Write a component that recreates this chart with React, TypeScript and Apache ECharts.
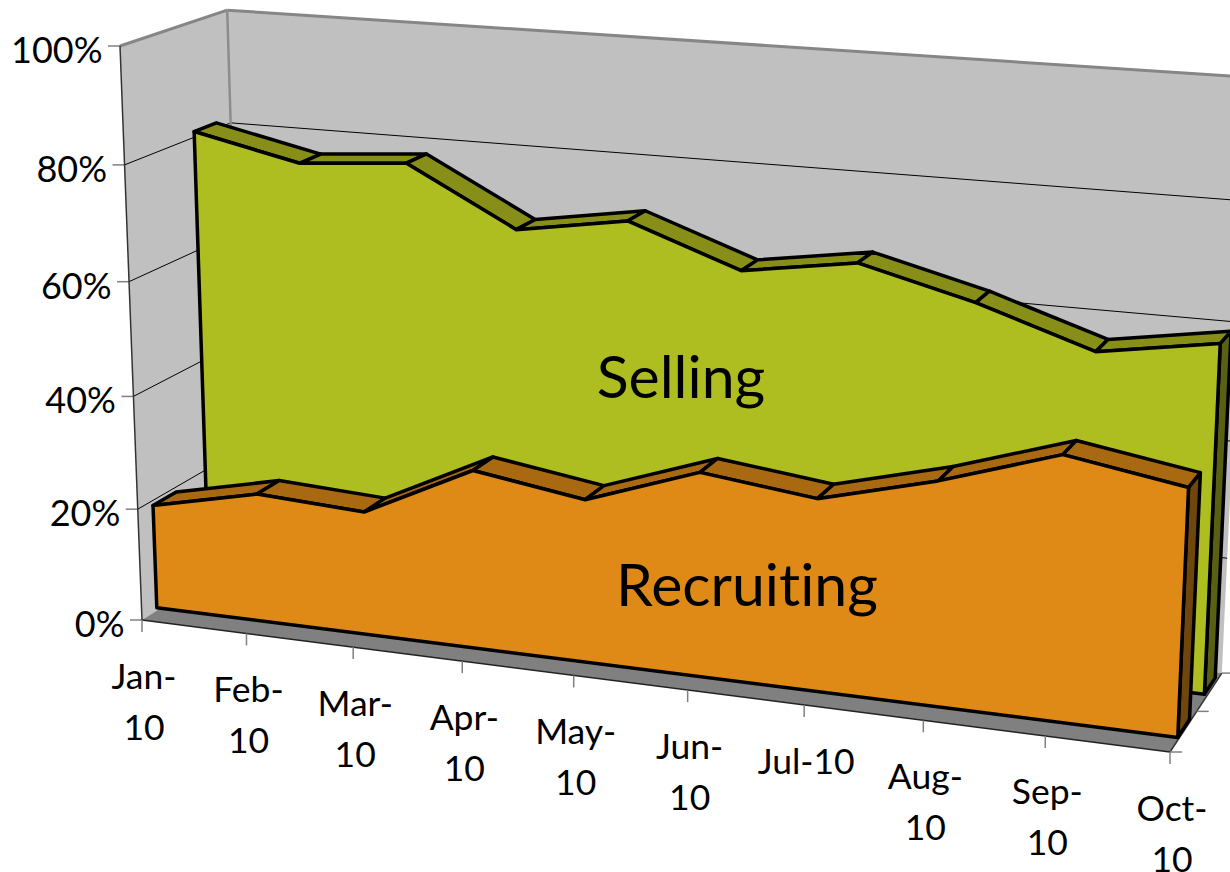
import React, { useEffect, useRef } from "react";
import * as echarts from "echarts";

const months = ["Jan-10", "Feb-10", "Mar-10", "Apr-10", "May-10", "Jun-10", "Jul-10", "Aug-10", "Sep-10", "Oct-10"];
const recruiting = [19.1, 23.3, 22.3, 31.7, 28.8, 35.6, 33.3, 38.4, 44.8, 41.6];
const selling = [81, 76.9, 78.4, 68.5, 71.6, 64.8, 67.8, 62.9, 56.6, 59.8];
const yTicks = [0, 20, 40, 60, 80, 100];
const depthTicks = [0, 0.5, 1];

const W = 1230;
const H = 872;
const FONT = "Lato, Carlito, sans-serif";

// corners of the chart box (perspective)
const O = [142, 620];
const A = [1170, 752];
const B = [120, 46];
const C = [243.7, 555.2];
const alpha = 0.905;
const beta = 0.957;
const gamma = 1.056;

function project(x: number, y: number, z: number): number[] {
  const w = 1 + x * (alpha - 1) + y * (beta - 1) + z * (gamma - 1);
  const px = O[0] + x * (alpha * A[0] - O[0]) + y * (beta * B[0] - O[0]) + z * (gamma * C[0] - O[0]);
  const py = O[1] + x * (alpha * A[1] - O[1]) + y * (beta * B[1] - O[1]) + z * (gamma * C[1] - O[1]);
  return [px / w, py / w];
}

// from the library's scales to box fractions
function unit(api: any, i: number, v: number): number[] {
  const c = api.coord([i, v]);
  return [c[0] / W, 1 - c[1] / H];
}

const poly = (points: number[][], fill: string, stroke: string, lineWidth: number) => ({
  type: "polygon",
  silent: true,
  shape: { points },
  style: { fill, stroke, lineWidth, lineJoin: "round" },
});
const seg = (a: number[], b: number[], stroke: string, lineWidth: number) => ({
  type: "line",
  silent: true,
  shape: { x1: a[0], y1: a[1], x2: b[0], y2: b[1] },
  style: { stroke, lineWidth, fill: "none" },
});
const label = (text: string, x: number, y: number, size: number, align: string, vAlign: string, lineHeight?: number) => ({
  type: "text",
  silent: true,
  x,
  y,
  style: { text, fill: "#000", fontFamily: FONT, fontSize: size, align, verticalAlign: vAlign, lineHeight },
});

function renderWalls(params: any, api: any) {
  if (params.dataIndex !== 0) return null;
  const last = months.length - 1;
  const u00 = unit(api, 0, 0);
  const u11 = unit(api, last, 100);
  const x0 = u00[0], x1 = u11[0], y0 = u00[1], y1 = u11[1];
  const c: any[] = [];
  c.push(poly([project(x0, y0, 0), project(x0, y0, 1), project(x0, y1, 1), project(x0, y1, 0)], "#C0C0C0", "none", 0));
  c.push(poly([project(x0, y0, 1), project(x1, y0, 1), project(x1, y1, 1), project(x0, y1, 1)], "#C0C0C0", "none", 0));
  c.push(poly([project(x0, y0, 0), project(x1, y0, 0), project(x1, y0, 1), project(x0, y0, 1)], "#808080", "none", 0));
  yTicks.forEach((t) => {
    const y = unit(api, 0, t)[1];
    if (t > 0 && t < 100) {
      c.push(seg(project(x0, y, 0), project(x0, y, 1), "#000", 1));
      c.push(seg(project(x0, y, 1), project(x1, y, 1), "#000", 1));
    }
    const p = project(x0, y, 0);
    c.push(seg([p[0] - 12, p[1]], p, "#808080", 1.5));
  });
  // wall edges
  c.push(seg(project(x0, y1, 0), project(x0, y1, 1), "#868686", 3));
  c.push(seg(project(x0, y1, 1), project(x1, y1, 1), "#868686", 3));
  c.push(seg(project(x0, y0, 1), project(x0, y1, 1), "#8c8c8c", 2.5));
  // axes
  c.push(seg(project(x0, y0, 0), project(x0, y1, 0), "#333", 1.5));
  c.push(seg(project(x0, y0, 0), project(x1, y0, 0), "#222", 1.5));
  c.push(seg(project(x1, y0, 0), project(x1, y0, 1), "#333", 1.5));
  months.forEach((_, i) => {
    const p = project(unit(api, i, 0)[0], y0, 0);
    c.push(seg(p, [p[0], p[1] + 12], "#808080", 1.5));
  });
  depthTicks.forEach((z) => {
    const p = project(x1, y0, z);
    c.push(seg(p, [p[0] + 12, p[1]], "#808080", 1.5));
  });
  return { type: "group", children: c };
}

function layer(values: number[], base: number, zFront: number, zBack: number, front: string, top: string, side: string) {
  return (params: any, api: any) => {
    if (params.dataIndex !== 0) return null;
    const last = values.length - 1;
    const y0 = unit(api, 0, base)[1];
    const x0 = unit(api, 0, 0)[0];
    const x1 = unit(api, last, 0)[0];
    const pts = values.map((v, i) => unit(api, i, v));
    const c: any[] = [];
    const e = pts[last];
    c.push(poly([project(e[0], e[1], zFront), project(e[0], e[1], zBack), project(e[0], y0, zBack), project(e[0], y0, zFront)], side, "#000", 3.5));
    for (let i = 0; i < last; i++) {
      const a = pts[i];
      const b = pts[i + 1];
      c.push(poly([project(a[0], a[1], zFront), project(a[0], a[1], zBack), project(b[0], b[1], zBack), project(b[0], b[1], zFront)], top, "#000", 3.5));
    }
    const outline = pts.map((p) => project(p[0], p[1], zFront));
    outline.push(project(x1, y0, zFront));
    outline.push(project(x0, y0, zFront));
    c.push(poly(outline, front, "#000", 3.5));
    return { type: "group", children: c };
  };
}

function renderTexts(params: any, api: any) {
  if (params.dataIndex !== 0) return null;
  const u = unit(api, 0, 0);
  const c: any[] = [];
  yTicks.forEach((t) => {
    const p = project(u[0], unit(api, 0, t)[1], 0);
    c.push(label(t + "%", p[0] - 17.5, p[1] + 3, 36, "right", "middle"));
  });
  months.forEach((m, i) => {
    const p = project(unit(api, i, 0)[0], u[1], 0);
    const text = m === "Jul-10" ? m : m.replace("-", "-\n");
    c.push(label(text, p[0] + 2, p[1] + 29.5, 35.5, "center", "top", 51));
  });
  c.push(label("Selling", 681, 375, 59, "center", "middle"));
  c.push(label("Recruiting", 747, 583, 59, "center", "middle"));
  return { type: "group", children: c };
}

export default function App() {
  const ref = useRef<HTMLDivElement>(null);
  useEffect(() => {
    const chart = echarts.init(ref.current!, undefined, { renderer: "svg" });
    const base = (name: string, data: number[], renderItem: any, z: number) => ({
      type: "custom",
      name,
      data: data.map((v, i) => [i, v]),
      renderItem,
      clip: false,
      silent: true,
      z,
    });
    chart.setOption({
      animation: false,
      grid: { left: 0, top: 0, width: W, height: H, containLabel: false },
      xAxis: { type: "category", data: months, boundaryGap: false, show: false },
      yAxis: { type: "value", min: 0, max: 100, interval: 20, show: false },
      series: [
        base("walls", selling, renderWalls, 1),
        base("Selling", selling, layer(selling, 1, 0.645, 0.86, "#AEBD20", "#878F18", "#596012"), 2),
        base("Recruiting", recruiting, layer(recruiting, 0.5, 0.14, 0.36, "#DF8A17", "#A96911", "#6F460B"), 3),
        base("texts", selling, renderTexts, 4),
      ],
    });
    return () => chart.dispose();
  }, []);
  return <div ref={ref} style={{ position: "fixed", left: 0, top: 0, width: W, height: H, background: "#fff", fontVariantLigatures: "none" }} />;
}
